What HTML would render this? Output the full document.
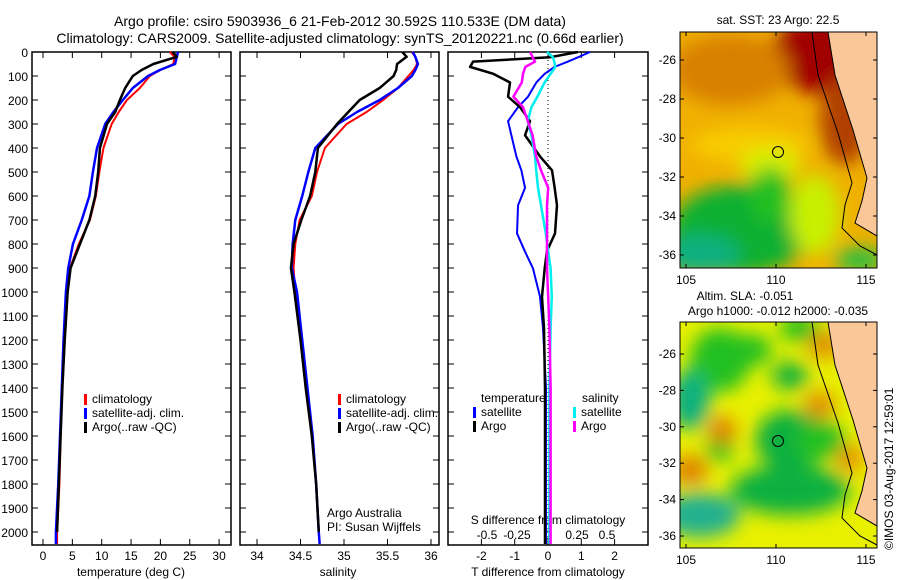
<!DOCTYPE html>
<html><head><meta charset="utf-8"><style>
body{margin:0;background:#fff}
svg{display:block;font-family:"Liberation Sans",sans-serif}
</style></head><body>
<svg id="c" width="900" height="580" viewBox="0 0 900 580">
<defs>
<filter id="bl" x="-50%" y="-50%" width="200%" height="200%"><feGaussianBlur stdDeviation="9"/></filter>
<clipPath id="m1"><rect x="680" y="32" width="197" height="236"/></clipPath>
<clipPath id="m2"><rect x="680" y="322" width="197" height="226"/></clipPath>
</defs>
<g font-size="14" fill="#000" text-anchor="middle">
<text x="340" y="26">Argo profile: csiro 5903936_6 21-Feb-2012 30.592S 110.533E (DM data)</text>
<text x="340" y="43">Climatology: CARS2009. Satellite-adjusted climatology: synTS_20120221.nc (0.66d earlier)</text>
</g>
<g id="maps">
<text x="778" y="24" font-size="12" text-anchor="middle">sat. SST: 23 Argo: 22.5</text>
<g clip-path="url(#m1)">
<rect x="680" y="32" width="197" height="236" fill="#f0b000"/>
<g filter="url(#bl)">
<ellipse cx="830" cy="55" rx="60" ry="40" fill="#a00000"/>
<ellipse cx="845" cy="120" rx="25" ry="45" fill="#b04000"/>
<ellipse cx="730" cy="70" rx="60" ry="35" fill="#d88000"/>
<ellipse cx="750" cy="145" rx="60" ry="18" fill="#f8cc00"/>
<ellipse cx="770" cy="165" rx="30" ry="18" fill="#d8f000"/>
<ellipse cx="740" cy="230" rx="70" ry="45" fill="#10b030"/>
<ellipse cx="770" cy="195" rx="20" ry="28" fill="#20c020"/>
<ellipse cx="700" cy="255" rx="40" ry="20" fill="#10b080"/>
<ellipse cx="815" cy="215" rx="25" ry="40" fill="#c8f000"/>
<ellipse cx="860" cy="260" rx="25" ry="12" fill="#20c040"/>
</g>
<path d="M828,32 L835,75 L853,130 L867,178 L862,201 L855,223 L877,236 L877,32 Z" fill="#fac898" stroke="#000" stroke-width="1"/>
<path d="M812,32 L818,75 L838,133 L852,183 L845,205 L842,228 L860,246 L877,255" fill="none" stroke="#000" stroke-width="1"/>
<circle cx="778" cy="152" r="5.5" fill="none" stroke="#000"/>
</g>
<rect x="680" y="32" width="197" height="236" fill="none" stroke="#000"/>
<text x="745" y="300" font-size="12" text-anchor="middle">Altim. SLA: -0.051</text>
<text x="778" y="315" font-size="12" text-anchor="middle">Argo h1000: -0.012 h2000: -0.035</text>
<g clip-path="url(#m2)">
<rect x="680" y="322" width="197" height="226" fill="#e8f000"/>
<g filter="url(#bl)">
<ellipse cx="720" cy="360" rx="30" ry="32" fill="#20c020"/>
<ellipse cx="750" cy="350" rx="22" ry="16" fill="#20c020"/>
<ellipse cx="800" cy="328" rx="20" ry="14" fill="#20c020"/>
<ellipse cx="790" cy="376" rx="18" ry="14" fill="#10b040"/>
<ellipse cx="690" cy="400" rx="20" ry="30" fill="#10b080"/>
<ellipse cx="790" cy="490" rx="60" ry="25" fill="#10b040"/>
<ellipse cx="790" cy="440" rx="35" ry="30" fill="#10b040"/>
<ellipse cx="700" cy="515" rx="40" ry="22" fill="#20b090"/>
<ellipse cx="720" cy="448" rx="14" ry="14" fill="#20c020"/>
<ellipse cx="722" cy="430" rx="14" ry="14" fill="#e08000"/>
<ellipse cx="690" cy="470" rx="18" ry="15" fill="#e08000"/>
<ellipse cx="825" cy="345" rx="18" ry="14" fill="#e09000"/>
<ellipse cx="820" cy="405" rx="16" ry="14" fill="#e09000"/>
<ellipse cx="850" cy="458" rx="14" ry="14" fill="#e89000"/>
<ellipse cx="820" cy="440" rx="25" ry="20" fill="#20c020"/>
</g>
<path d="M828,322 L835,365 L853,420 L867,468 L862,491 L855,513 L877,526 L877,322 Z" fill="#fac898" stroke="#000" stroke-width="1"/>
<path d="M812,322 L818,365 L838,423 L852,473 L845,495 L842,518 L860,536 L877,545" fill="none" stroke="#000" stroke-width="1"/>
<circle cx="778" cy="441" r="5.5" fill="none" stroke="#000"/>
</g>
<rect x="680" y="322" width="197" height="226" fill="none" stroke="#000"/>
<text transform="translate(893,550) rotate(-90)" font-size="12">©IMOS 03-Aug-2017 12:59:01</text>
</g>
<g id="plots"></g>
</svg>
<script>
const depths=[0,20,50,75,100,150,200,250,300,400,500,600,700,800,900,1000,1200,1400,1600,1800,2000,2050];
const tClim=[21.6,22.4,22.2,20.0,18.2,16.5,14.3,12.9,11.7,10.3,9.6,9.0,8.0,6.1,4.6,4.2,3.7,3.3,3.0,2.8,2.4,2.4];
const tSat=[23.0,22.8,22.5,19.9,17.9,15.3,13.6,12.0,10.6,9.2,8.5,7.9,6.6,5.1,4.3,3.9,3.5,3.2,2.9,2.6,2.2,2.2];
const tArgo=[22.1,22.8,18.8,16.8,15.3,14.0,13.1,12.3,10.9,9.7,9.4,8.9,7.9,6.3,4.7,4.2,3.7,3.3,3.0,2.7,2.4,2.4];
const sClim=[35.78,35.82,35.84,35.80,35.74,35.62,35.45,35.26,35.03,34.78,34.69,34.63,34.49,34.44,34.42,34.44,34.50,34.56,34.63,34.68,34.71,34.72];
const sSat=[35.79,35.82,35.85,35.82,35.78,35.62,35.41,35.15,34.93,34.67,34.59,34.52,34.44,34.41,34.40,34.46,34.52,34.58,34.64,34.68,34.71,34.72];
const sArgo=[35.67,35.72,35.61,35.60,35.57,35.41,35.18,35.05,34.92,34.70,34.67,34.61,34.51,34.42,34.39,34.43,34.50,34.56,34.63,34.68,34.71,34.71];
const dDepths=[0,22,40,62,91,127,186,230,288,347,435,493,566,639,756,829,902,1020,1150,1400,2000,2050];
const dTSat=[1.26,0.9,0.6,0.2,-0.1,-0.35,-0.6,-0.9,-1.2,-1.1,-0.95,-0.8,-0.69,-0.9,-0.93,-0.7,-0.45,-0.24,-0.15,-0.06,-0.06,-0.06];
const dTArgo=[0.9,0.06,-2.25,-2.34,-1.64,-1.14,-1.2,-0.84,-0.54,-0.69,-0.24,0.12,0.2,0.27,0.21,-0.03,-0.1,-0.18,-0.12,-0.09,-0.09,-0.09];
const dSSat=[0,0.05,0.06,0.07,0.03,-0.02,-0.08,-0.13,-0.16,-0.13,-0.1,-0.09,-0.075,-0.05,-0.01,0.01,0.03,0.04,0.03,0.02,0.02,0.02];
const dSArgo=[-0.14,-0.12,-0.1,-0.18,-0.2,-0.21,-0.28,-0.2,-0.16,-0.12,-0.09,-0.05,0.01,0.0,0.0,0.0,0.0,0.01,0.02,0.03,0.03,0.03];
const depthTicks=[0,100,200,300,400,500,600,700,800,900,1000,1100,1200,1300,1400,1500,1600,1700,1800,1900,2000];
const tTicks=[0,5,10,15,20,25,30];
const sTicks=[34,34.5,35,35.5,36];
const dtTicks=[-2,-1,0,1,2];
const dsTicks=[-0.5,-0.25,0,0.25,0.5];
const dsTickLabels=['-0.5','-0.25','0','0.25','0.5'];

const NS='http://www.w3.org/2000/svg';
const root=document.getElementById('plots');
function mk(tag,attrs,parent){const e=document.createElementNS(NS,tag);for(const k in attrs)e.setAttribute(k,attrs[k]);(parent||root).appendChild(e);return e;}
const Y0=52,Y1=545;
const yD=d=>Y0+d*0.24;
const xT=v=>43+v*5.87;
const xS=v=>257+(v-34)*87;
const xDT=v=>548+v*33.3;
const xDS=v=>547+v*120;

function frame(x0,x1,name){
  const r=mk('rect',{x:x0,y:Y0,width:x1-x0,height:Y1-Y0,fill:'none',stroke:'#000','stroke-width':1.5});
  
  
  depthTicks.forEach(d=>{mk('line',{x1:x0,x2:x0+6,y1:yD(d),y2:yD(d),stroke:'#000'});mk('line',{x1:x1-6,x2:x1,y1:yD(d),y2:yD(d),stroke:'#000'});});
}
function xticks(x0,x1,ticks,fx,labels){
  ticks.forEach((t,i)=>{const x=fx(t);mk('line',{x1:x,x2:x,y1:Y1,y2:Y1-6,stroke:'#000'});mk('line',{x1:x,x2:x,y1:Y0,y2:Y0+6,stroke:'#000'});
    const tx=mk('text',{x:x,y:Y1+15,'font-size':12,'text-anchor':'middle'});tx.textContent=labels?labels[i]:t;
    
    });
}
function line(vals,ds,fx,color,w,name){
  const p=mk('polyline',{points:vals.map((v,i)=>fx(v)+','+yD(ds[i])).join(' '),fill:'none',stroke:color,'stroke-width':w,'stroke-linejoin':'round'});
  
  
}
function txt(x,y,s,name,anchor,size){const t=mk('text',{x:x,y:y,'font-size':size||12,'text-anchor':anchor||'start'});t.textContent=s;
  
  return t;}
function legItem(x,y,color,label,name){mk('rect',{x:x,y:y-9,width:3,height:11,fill:color});txt(x+8,y,label,name);}

depthTicks.forEach(d=>{const t=mk('text',{x:28,y:yD(d)+5,'font-size':12,'text-anchor':'end'});t.textContent=d;
  
  });

frame(32,231,'temperature-panel');
xticks(32,231,tTicks,xT);
txt(131,576,'temperature (deg C)','temperature-axis-title','middle');
line(tClim,depths,xT,'#f00',2,'temperature-climatology-line');
line(tSat,depths,xT,'#00f',2.5,'temperature-satellite-line');
line(tArgo,depths.slice(0,21),xT,'#000',2.5,'temperature-argo-line');
legItem(84,403,'#f00','climatology','legend-climatology');
legItem(84,417,'#00f','satellite-adj. clim.','legend-satellite');
legItem(84,431,'#000','Argo(..raw -QC)','legend-argo');

frame(240,439,'salinity-panel');
xticks(240,439,sTicks,xS);
txt(338,576,'salinity','salinity-axis-title','middle');
line(sClim,depths,xS,'#f00',2,'salinity-climatology-line');
line(sSat,depths,xS,'#00f',2.5,'salinity-satellite-line');
line(sArgo,depths.slice(0,21),xS,'#000',2.5,'salinity-argo-line');
legItem(338,403,'#f00','climatology','legend-climatology-s');
legItem(338,417,'#00f','satellite-adj. clim.','legend-satellite-s');
legItem(338,431,'#000','Argo(..raw -QC)','legend-argo-s');
txt(327,517,'Argo Australia','credit-argo-australia');
txt(327,531,'PI: Susan Wijffels','credit-pi');

frame(448,648,'difference-panel');
dtTicks.forEach(t=>{const x=xDT(t);mk('line',{x1:x,x2:x,y1:Y1,y2:Y1-6,stroke:'#000'});mk('line',{x1:x,x2:x,y1:Y0,y2:Y0+6,stroke:'#000'});
  const tx=mk('text',{x:x,y:Y1+15,'font-size':12,'text-anchor':'middle'});tx.textContent=t;
  
  });
dsTicks.forEach((t,i)=>{const tx=mk('text',{x:xDS(t),y:539,'font-size':12,'text-anchor':'middle'});tx.textContent=dsTickLabels[i];
  
  });
txt(548,524,'S difference from climatology','s-diff-axis-title','middle');
txt(548,576,'T difference from climatology','t-diff-axis-title','middle');
mk('line',{x1:xDT(0),x2:xDT(0),y1:Y0,y2:Y1,stroke:'#000','stroke-dasharray':'1,3'});
line(dTSat,dDepths,xDT,'#00f',2,'t-diff-satellite-line');
line(dTArgo,dDepths,xDT,'#000',2.5,'t-diff-argo-line');
line(dSSat,dDepths,xDS,'#0ee',2.5,'s-diff-satellite-line');
line(dSArgo,dDepths,xDS,'#f0f',2.5,'s-diff-argo-line');
txt(481,402,'temperature','legend-temperature-heading');
legItem(473,416,'#00f','satellite','legend-t-satellite');
legItem(473,430,'#000','Argo','legend-t-argo');
txt(582,402,'salinity','legend-salinity-heading');
legItem(573,416,'#0ee','satellite','legend-s-satellite');
legItem(573,430,'#f0f','Argo','legend-s-argo');

const lonTicks=[105,110,115],latTicks=[-26,-28,-30,-32,-34,-36];
const xLon=v=>686+(v-105)*18;
[[32,268,60,255],[322,548,354,536]].forEach(([t,b,y26,y36])=>{
  const yLat=v=>y26+(-26-v)*(y36-y26)/10;
  latTicks.forEach(l=>{const y=yLat(l);mk('line',{x1:680,x2:684,y1:y,y2:y,stroke:'#000'});mk('line',{x1:873,x2:877,y1:y,y2:y,stroke:'#000'});
    const tx=mk('text',{x:676,y:y+4,'font-size':12,'text-anchor':'end'});tx.textContent=l;
    
    });
  lonTicks.forEach(l=>{const x=xLon(l);mk('line',{x1:x,x2:x,y1:b,y2:b-4,stroke:'#000'});mk('line',{x1:x,x2:x,y1:t,y2:t+4,stroke:'#000'});
    const tx=mk('text',{x:x,y:b+16,'font-size':12,'text-anchor':'middle'});tx.textContent=l;
    
    });
});
</script>
</body></html>
